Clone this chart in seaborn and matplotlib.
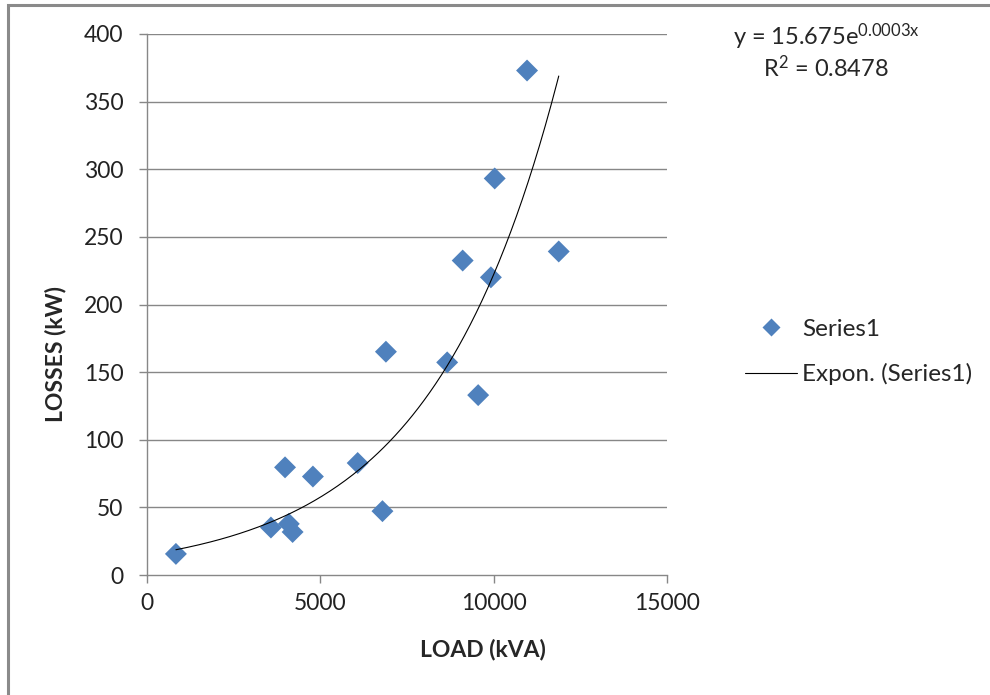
import numpy as np
import pandas as pd
import matplotlib
matplotlib.use("Agg")
import matplotlib.pyplot as plt
from matplotlib.lines import Line2D
from matplotlib.patches import Rectangle
import seaborn as sns

# Data
load_kva = [834, 3575, 3982, 4091, 4200, 4786, 6077, 6792, 6892, 8659,
            9106, 9553, 9920, 10030, 10963, 11877]
losses_kw = [15.6, 35.1, 79.6, 37.8, 31.8, 72.8, 82.8, 47.2, 165.1, 157.2,
             232.5, 133.0, 220.1, 293.2, 373.0, 239.2]
x_ticks = [0, 5000, 10000, 15000]
y_ticks = [0, 50, 100, 150, 200, 250, 300, 350, 400]
series_name = "Series1"
trend_name = "Expon. (Series1)"
eq_text = "y = 15.675e$^{0.0003x}$"
r2_text = "R$^{2}$ = 0.8478"
x_title = "LOAD (kVA)"
y_title = "LOSSES (kW)"

sns.set_theme(style="white")
plt.rcParams['font.family'] = ['Lato', 'DejaVu Sans']
plt.rcParams['mathtext.fontset'] = 'custom'
plt.rcParams['mathtext.rm'] = 'Lato'
plt.rcParams['mathtext.it'] = 'Lato'

df = pd.DataFrame({"LOAD": load_kva, "LOSSES": losses_kw})

fig = plt.figure(figsize=(9.9, 6.95), dpi=100)
ax = fig.add_axes([147/990, 1 - 575/695, 520/990, 541/695])

blue = "#4F81BD"
grid_c = "#878787"

for yv in y_ticks[1:]:
    ax.axhline(yv, color=grid_c, lw=1.0, zorder=0)

sns.scatterplot(data=df, x="LOAD", y="LOSSES", marker="D", s=125,
                color=blue, edgecolor="none", ax=ax, zorder=3, legend=False)

# exponential trendline (least squares on log y, as Excel does)
b, ln_a = np.polyfit(np.array(load_kva, float), np.log(losses_kw), 1)
xs = np.linspace(min(load_kva), max(load_kva), 200)
ax.plot(xs, np.exp(ln_a) * np.exp(b * xs), color="black", lw=0.8, zorder=4)

ax.set_xlim(0, 15000)
ax.set_ylim(0, 400)
ax.set_xticks(x_ticks)
ax.set_yticks(y_ticks)
ax.tick_params(axis="both", labelsize=16.5, labelcolor="#222222", length=6,
               width=1, direction="out", color=grid_c)
ax.tick_params(axis="x", pad=7)
ax.tick_params(axis="y", pad=11)
for side in ["top", "right"]:
    ax.spines[side].set_visible(False)
for side in ["left", "bottom"]:
    ax.spines[side].set_color(grid_c)
    ax.spines[side].set_linewidth(1.0)
ax.xaxis.set_ticks_position("bottom")
ax.yaxis.set_ticks_position("left")
ax.set_xlabel("")
ax.set_ylabel("")
ax.set_facecolor("white")

fig.text(483/990, 1 - 650/695, x_title, fontsize=16.5, fontweight="bold",
         ha="center", va="center")
fig.text(55/990, 1 - 354/695, y_title, fontsize=16.5, fontweight="bold",
         ha="center", va="center", rotation=90)

handles = [Line2D([], [], marker="D", color=blue, ls="none", markersize=9,
                  markeredgecolor="none"),
           Line2D([], [], color="black", lw=0.8)]
fig.legend(handles, [series_name, trend_name], loc="center left",
           bbox_to_anchor=(745/990, 1 - 352/695), frameon=False,
           fontsize=17.5, handlelength=2.15, handletextpad=0.2,
           labelspacing=0.95, borderpad=0, borderaxespad=0)

fig.text(826/990, 1 - 37/695, eq_text, fontsize=17, ha="center", va="center")
fig.text(826/990, 1 - 68/695, r2_text, fontsize=17, ha="center", va="center")

fig.patches.append(Rectangle((8/990, -0.1), 1.2, 1 - 5/695 + 0.1,
                             transform=fig.transFigure, fill=False,
                             edgecolor="#8a8a8a", lw=2.2))

fig.savefig("out.png", dpi=100, facecolor="white")
